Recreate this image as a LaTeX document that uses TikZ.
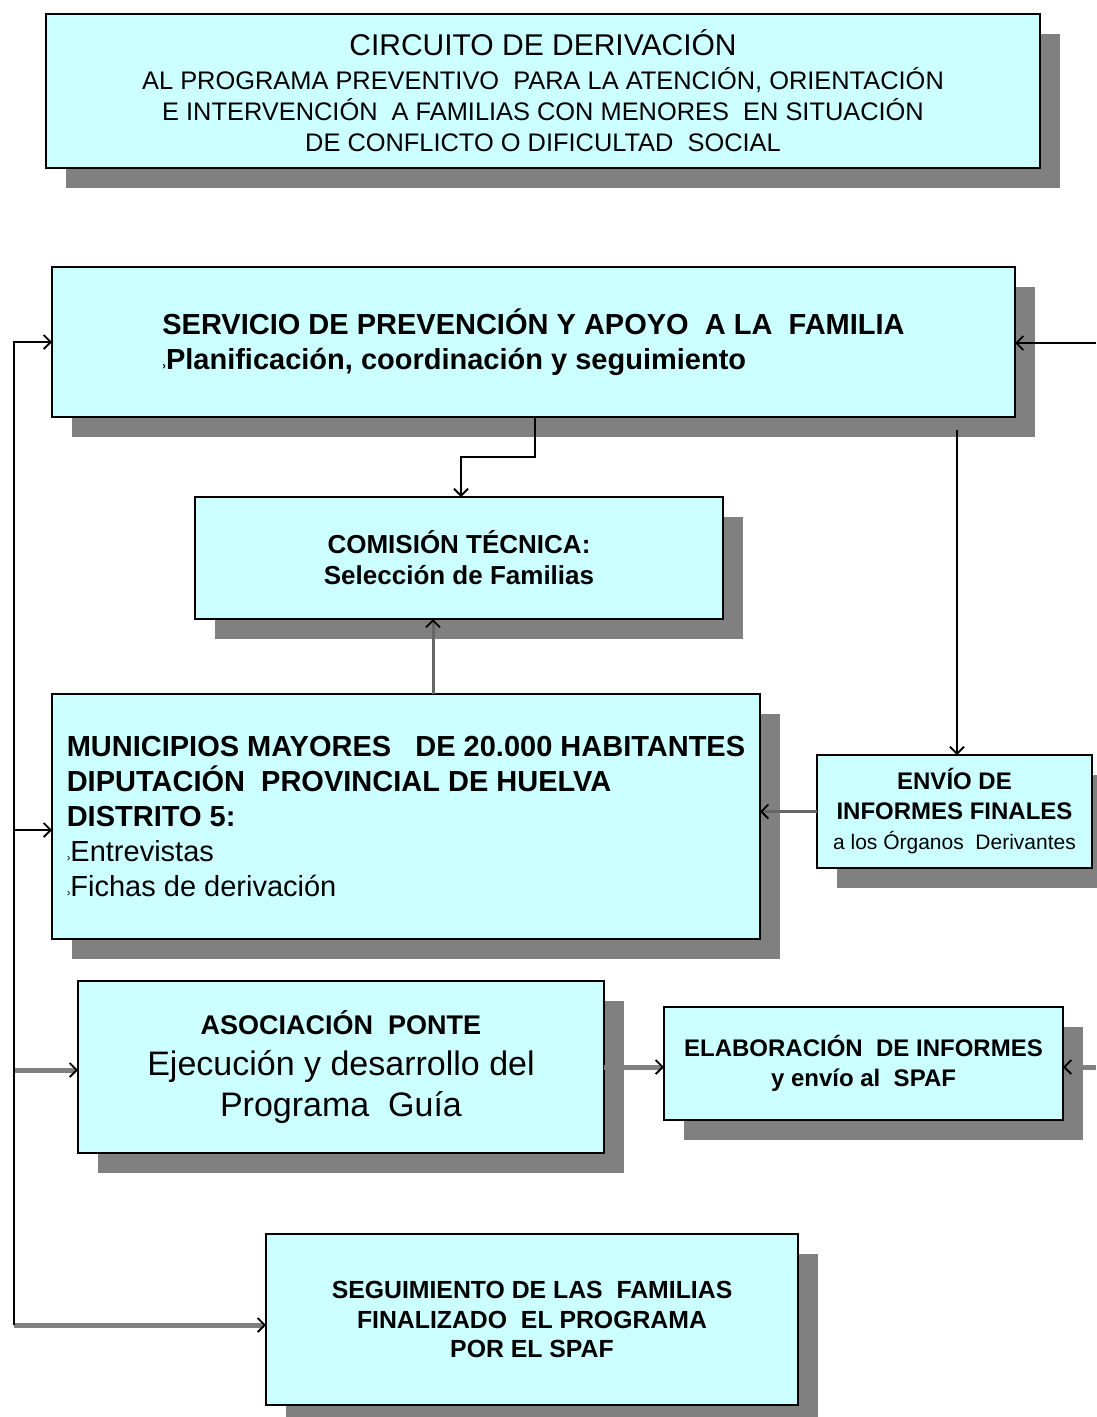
\documentclass[tikz,border=0pt]{standalone}
\usepackage{fontspec}
\setmainfont{Liberation Sans}
\usetikzlibrary{shadows,arrows.meta}
\definecolor{boxfill}{HTML}{CCFFFF}
\definecolor{shadowgray}{HTML}{808080}
\newcommand{\fsz}[2]{\fontsize{#1}{#2}\selectfont}
\newcommand{\bul}{{\fontsize{11}{11}\selectfont ›}}
\begin{document}
\begin{tikzpicture}[x=1pt,y=-1pt,
  box/.style={draw, line width=2.8pt, fill=boxfill, anchor=north west, inner sep=0pt, outer sep=0pt,
    drop shadow={shadow xshift=20pt, shadow yshift=-20pt, fill=shadowgray, opacity=1}},
  tip/.style={-{Straight Barb[length=7pt,width=14pt,line width=1.8pt,color=black]}},
  blk/.style={tip, line width=2.8pt, draw=black},
  thn/.style={tip, line width=2pt, draw=black},
  gry/.style={tip, line width=5pt, draw=shadowgray},
  gryt/.style={tip, line width=3pt, draw=black!60},
]
\useasboundingbox (0,0) rectangle (1096,1417);

% boxes
\node[box, minimum width=994pt, minimum height=154pt, align=center, font=\fsz{25.4}{31}] (title) at (46,14)
  {{\fsz{30}{31}CIRCUITO DE DERIVACIÓN}\\[3pt]
   AL PROGRAMA PREVENTIVO~ PARA LA ATENCIÓN, ORIENTACIÓN\\
   E INTERVENCIÓN~ A FAMILIAS CON MENORES~ EN SITUACIÓN\\
   DE CONFLICTO O DIFICULTAD~ SOCIAL};

\node[box, minimum width=963pt, minimum height=150pt, align=left, font=\bfseries\fsz{29}{35}] (spaf) at (52,267)
  {SERVICIO DE PREVENCIÓN Y APOYO~ A LA~ FAMILIA\\
   \bul Planificación, coordinación y seguimiento};

\node[box, minimum width=528pt, minimum height=122pt, align=center, font=\bfseries\fsz{26}{31}] (com) at (195,497)
  {COMISIÓN TÉCNICA:\\ Selección de Familias};

\node[box, minimum width=708pt, minimum height=245pt, align=left, font=\fsz{29}{35}] (mun) at (52,694)
  {\textbf{MUNICIPIOS MAYORES~~ DE 20.000 HABITANTES}\\
   \textbf{DIPUTACIÓN~ PROVINCIAL DE HUELVA}\\
   \textbf{DISTRITO 5:}\\
   \bul Entrevistas\\
   \bul Fichas de derivación};

\node[box, minimum width=275pt, minimum height=113pt, align=center, font=\bfseries\fsz{24}{30}] (env) at (817,755)
  {ENVÍO DE\\ INFORMES FINALES\\ {\mdseries\fsz{21}{30}a los Órganos~ Derivantes}};

\node[box, minimum width=526pt, minimum height=172pt, align=center, font=\fsz{34}{41}] (aso) at (78,981)
  {{\bfseries\fsz{27}{34}ASOCIACIÓN~ PONTE}\\ Ejecución y desarrollo del\\ Programa~ Guía};

\node[box, minimum width=399pt, minimum height=113pt, align=center, font=\bfseries\fsz{24}{30}] (ela) at (664,1007)
  {ELABORACIÓN~ DE INFORMES\\ y envío al~ SPAF};

\node[box, minimum width=532pt, minimum height=171pt, align=center, font=\bfseries\fsz{24.8}{29.5}] (seg) at (266,1234)
  {SEGUIMIENTO DE LAS~ FAMILIAS\\ FINALIZADO~ EL PROGRAMA\\ POR EL SPAF};

% coordinates
\coordinate (lb) at (14,1325);
\coordinate (lm) at (14,830);
\coordinate (la) at (14,1070);
\coordinate (r1) at (1096,343);
\coordinate (r2) at (1096,1067);
\coordinate (k1) at (535,457);
\coordinate (k2) at (461,457);
\coordinate (k3) at (433,650);
\coordinate (k4) at (957,430);

% connectors
\draw[gry] (lb) -- (lb -| seg.west);
\draw[gry] (la) -- (la -| aso.west);
\draw[blk] (lb) |- (spaf.west);
\draw[blk] (lm) -- (lm -| mun.west);
\draw[blk] (r1) -- (r1 -| spaf.east);
\draw[gry] (r2) -- (r2 -| ela.east);
\draw[thn] (k1 |- spaf.south) -- (k1) -- (k2) -- (k2 |- com.north);
\draw[gryt] (k3 |- mun.north) -- (k3 |- com.south);
\draw[thn] (k4) -- (k4 |- env.north);
\draw[gryt] (env.west) -- (env.west -| mun.east);
\draw[gry] (aso.east) -- (aso.east -| ela.west);
\end{tikzpicture}
\end{document}
